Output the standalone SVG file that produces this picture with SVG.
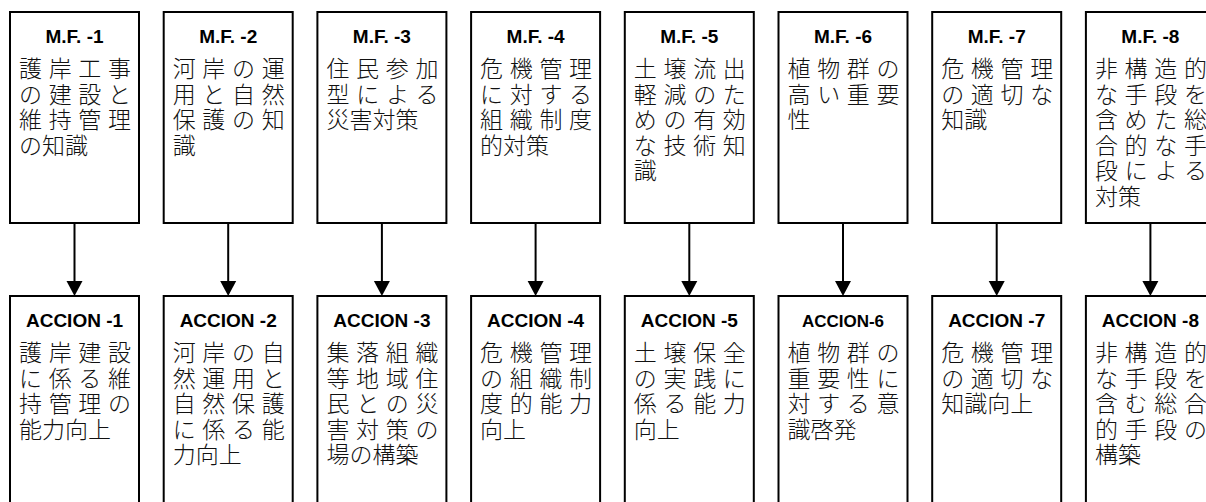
<svg xmlns="http://www.w3.org/2000/svg" width="1206" height="502" viewBox="0 0 1206 502">
<style>
.box{fill:#fff;stroke:#000;stroke-width:2}
.t{font-family:"Liberation Sans",Arial,sans-serif;font-weight:bold;font-size:19px;text-anchor:middle;fill:#000}
.t6{font-size:17px}
.j{font-family:"Noto Sans CJK JP","Noto Sans CJK SC",sans-serif;font-size:23px;font-weight:300;fill:#111}
.c line{stroke:#000;stroke-width:2}
.c polygon{fill:#000}
</style>
<rect width="1206" height="502" fill="#fff"/>
<g id="mf1"><rect class="box" x="10" y="12" width="129" height="211"/><text class="t" x="74.5" y="43">M.F. -1</text>
<text class="j" x="19" y="77" textLength="112" lengthAdjust="spacing">護岸工事</text><text class="j" x="19" y="102.5" textLength="112" lengthAdjust="spacing">の建設と</text><text class="j" x="19" y="128" textLength="112" lengthAdjust="spacing">維持管理</text><text class="j" x="19" y="153.5">の知識</text></g>
<g id="mf2"><rect class="box" x="163.7" y="12" width="129" height="211"/><text class="t" x="228.2" y="43">M.F. -2</text>
<text class="j" x="172.7" y="77" textLength="112" lengthAdjust="spacing">河岸の運</text><text class="j" x="172.7" y="102.5" textLength="112" lengthAdjust="spacing">用と自然</text><text class="j" x="172.7" y="128" textLength="112" lengthAdjust="spacing">保護の知</text><text class="j" x="172.7" y="153.5">識</text></g>
<g id="mf3"><rect class="box" x="317.4" y="12" width="129" height="211"/><text class="t" x="381.9" y="43">M.F. -3</text>
<text class="j" x="326.4" y="77" textLength="112" lengthAdjust="spacing">住民参加</text><text class="j" x="326.4" y="102.5" textLength="112" lengthAdjust="spacing">型による</text><text class="j" x="326.4" y="128">災害対策</text></g>
<g id="mf4"><rect class="box" x="471.1" y="12" width="129" height="211"/><text class="t" x="535.6" y="43">M.F. -4</text>
<text class="j" x="480.1" y="77" textLength="112" lengthAdjust="spacing">危機管理</text><text class="j" x="480.1" y="102.5" textLength="112" lengthAdjust="spacing">に対する</text><text class="j" x="480.1" y="128" textLength="112" lengthAdjust="spacing">組織制度</text><text class="j" x="480.1" y="153.5">的対策</text></g>
<g id="mf5"><rect class="box" x="624.8" y="12" width="129" height="211"/><text class="t" x="689.3" y="43">M.F. -5</text>
<text class="j" x="633.8" y="77" textLength="112" lengthAdjust="spacing">土壌流出</text><text class="j" x="633.8" y="102.5" textLength="112" lengthAdjust="spacing">軽減のた</text><text class="j" x="633.8" y="128" textLength="112" lengthAdjust="spacing">めの有効</text><text class="j" x="633.8" y="153.5" textLength="112" lengthAdjust="spacing">な技術知</text><text class="j" x="633.8" y="179">識</text></g>
<g id="mf6"><rect class="box" x="778.5" y="12" width="129" height="211"/><text class="t" x="843" y="43">M.F. -6</text>
<text class="j" x="787.5" y="77" textLength="112" lengthAdjust="spacing">植物群の</text><text class="j" x="787.5" y="102.5" textLength="112" lengthAdjust="spacing">高い重要</text><text class="j" x="787.5" y="128">性</text></g>
<g id="mf7"><rect class="box" x="932.2" y="12" width="129" height="211"/><text class="t" x="996.7" y="43">M.F. -7</text>
<text class="j" x="941.2" y="77" textLength="112" lengthAdjust="spacing">危機管理</text><text class="j" x="941.2" y="102.5" textLength="112" lengthAdjust="spacing">の適切な</text><text class="j" x="941.2" y="128">知識</text></g>
<g id="mf8"><rect class="box" x="1085.9" y="12" width="129" height="211"/><text class="t" x="1150.4" y="43">M.F. -8</text>
<text class="j" x="1094.9" y="77" textLength="112" lengthAdjust="spacing">非構造的</text><text class="j" x="1094.9" y="102.5" textLength="112" lengthAdjust="spacing">な手段を</text><text class="j" x="1094.9" y="128" textLength="112" lengthAdjust="spacing">含めた総</text><text class="j" x="1094.9" y="153.5" textLength="112" lengthAdjust="spacing">合的な手</text><text class="j" x="1094.9" y="179" textLength="112" lengthAdjust="spacing">段による</text><text class="j" x="1094.9" y="204.5">対策</text></g>

<g id="ac1"><rect class="box" x="10" y="296" width="129" height="230"/><text class="t" x="74.5" y="327">ACCION -1</text>
<text class="j" x="19" y="361" textLength="112" lengthAdjust="spacing">護岸建設</text><text class="j" x="19" y="386.5" textLength="112" lengthAdjust="spacing">に係る維</text><text class="j" x="19" y="412" textLength="112" lengthAdjust="spacing">持管理の</text><text class="j" x="19" y="437.5">能力向上</text></g>
<g id="ac2"><rect class="box" x="163.7" y="296" width="129" height="230"/><text class="t" x="228.2" y="327">ACCION -2</text>
<text class="j" x="172.7" y="361" textLength="112" lengthAdjust="spacing">河岸の自</text><text class="j" x="172.7" y="386.5" textLength="112" lengthAdjust="spacing">然運用と</text><text class="j" x="172.7" y="412" textLength="112" lengthAdjust="spacing">自然保護</text><text class="j" x="172.7" y="437.5" textLength="112" lengthAdjust="spacing">に係る能</text><text class="j" x="172.7" y="463">力向上</text></g>
<g id="ac3"><rect class="box" x="317.4" y="296" width="129" height="230"/><text class="t" x="381.9" y="327">ACCION -3</text>
<text class="j" x="326.4" y="361" textLength="112" lengthAdjust="spacing">集落組織</text><text class="j" x="326.4" y="386.5" textLength="112" lengthAdjust="spacing">等地域住</text><text class="j" x="326.4" y="412" textLength="112" lengthAdjust="spacing">民との災</text><text class="j" x="326.4" y="437.5" textLength="112" lengthAdjust="spacing">害対策の</text><text class="j" x="326.4" y="463">場の構築</text></g>
<g id="ac4"><rect class="box" x="471.1" y="296" width="129" height="230"/><text class="t" x="535.6" y="327">ACCION -4</text>
<text class="j" x="480.1" y="361" textLength="112" lengthAdjust="spacing">危機管理</text><text class="j" x="480.1" y="386.5" textLength="112" lengthAdjust="spacing">の組織制</text><text class="j" x="480.1" y="412" textLength="112" lengthAdjust="spacing">度的能力</text><text class="j" x="480.1" y="437.5">向上</text></g>
<g id="ac5"><rect class="box" x="624.8" y="296" width="129" height="230"/><text class="t" x="689.3" y="327">ACCION -5</text>
<text class="j" x="633.8" y="361" textLength="112" lengthAdjust="spacing">土壌保全</text><text class="j" x="633.8" y="386.5" textLength="112" lengthAdjust="spacing">の実践に</text><text class="j" x="633.8" y="412" textLength="112" lengthAdjust="spacing">係る能力</text><text class="j" x="633.8" y="437.5">向上</text></g>
<g id="ac6"><rect class="box" x="778.5" y="296" width="129" height="230"/><text class="t t6" x="843" y="327">ACCION-6</text>
<text class="j" x="787.5" y="361" textLength="112" lengthAdjust="spacing">植物群の</text><text class="j" x="787.5" y="386.5" textLength="112" lengthAdjust="spacing">重要性に</text><text class="j" x="787.5" y="412" textLength="112" lengthAdjust="spacing">対する意</text><text class="j" x="787.5" y="437.5">識啓発</text></g>
<g id="ac7"><rect class="box" x="932.2" y="296" width="129" height="230"/><text class="t" x="996.7" y="327">ACCION -7</text>
<text class="j" x="941.2" y="361" textLength="112" lengthAdjust="spacing">危機管理</text><text class="j" x="941.2" y="386.5" textLength="112" lengthAdjust="spacing">の適切な</text><text class="j" x="941.2" y="412">知識向上</text></g>
<g id="ac8"><rect class="box" x="1085.9" y="296" width="129" height="230"/><text class="t" x="1150.4" y="327">ACCION -8</text>
<text class="j" x="1094.9" y="361" textLength="112" lengthAdjust="spacing">非構造的</text><text class="j" x="1094.9" y="386.5" textLength="112" lengthAdjust="spacing">な手段を</text><text class="j" x="1094.9" y="412" textLength="112" lengthAdjust="spacing">含む総合</text><text class="j" x="1094.9" y="437.5" textLength="112" lengthAdjust="spacing">的手段の</text><text class="j" x="1094.9" y="463">構築</text></g>

<g id="connectors" class="c">
<line x1="74.5" y1="223" x2="74.5" y2="282"/><polygon points="66.5,281 82.5,281 74.5,296"/>
<line x1="228.2" y1="223" x2="228.2" y2="282"/><polygon points="220.2,281 236.2,281 228.2,296"/>
<line x1="381.9" y1="223" x2="381.9" y2="282"/><polygon points="373.9,281 389.9,281 381.9,296"/>
<line x1="535.6" y1="223" x2="535.6" y2="282"/><polygon points="527.6,281 543.6,281 535.6,296"/>
<line x1="689.3" y1="223" x2="689.3" y2="282"/><polygon points="681.3,281 697.3,281 689.3,296"/>
<line x1="843" y1="223" x2="843" y2="282"/><polygon points="835,281 851,281 843,296"/>
<line x1="996.7" y1="223" x2="996.7" y2="282"/><polygon points="988.7,281 1004.7,281 996.7,296"/>
<line x1="1150.4" y1="223" x2="1150.4" y2="282"/><polygon points="1142.4,281 1158.4,281 1150.4,296"/>
</g>
</svg>
